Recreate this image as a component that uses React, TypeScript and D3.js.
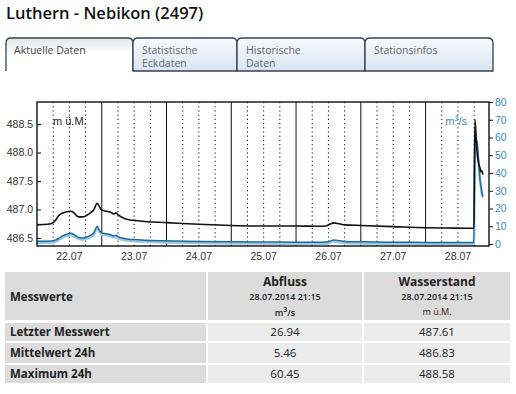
import React, { useRef, useEffect } from "react";
import * as d3 from "d3";

const title = "Luthern - Nebikon (2497)";
const tabLabels = [["Aktuelle Daten"], ["Statistische", "Eckdaten"], ["Historische", "Daten"], ["Stationsinfos"]];

// hours since 22.07.2014 00:00
const levelHours = [0, 4, 6, 7, 8, 9.5, 11, 12.5, 13.5, 14.5, 15.5, 17, 18.5, 20, 21, 22.3, 23, 24, 25.5, 27, 28.5, 29.3, 30.2, 32, 34, 36, 40, 48, 60, 72, 84, 96, 104, 107, 108.5, 110, 112, 114, 120, 132, 144, 152, 161.9, 162.3, 163, 163.8, 164.2, 164.5, 164.9, 165.25];
const levelValues = [486.73, 486.74, 486.77, 486.82, 486.89, 486.94, 486.96, 486.97, 486.95, 486.9, 486.87, 486.87, 486.9, 486.95, 486.99, 487.11, 487.06, 486.99, 486.97, 486.96, 486.92, 486.94, 486.9, 486.85, 486.82, 486.81, 486.79, 486.77, 486.74, 486.72, 486.71, 486.71, 486.705, 486.71, 486.74, 486.765, 486.75, 486.73, 486.72, 486.7, 486.68, 486.675, 486.67, 488.58, 488.04, 487.78, 487.73, 487.66, 487.68, 487.61];

const flowHours = levelHours;
const flowValues = [1.5, 1.6, 1.8, 2.3, 3.1, 4.6, 5.5, 6.0, 5.5, 4.5, 3.7, 3.4, 3.9, 5.0, 6.2, 9.8, 8.0, 6.3, 5.8, 5.4, 4.5, 4.9, 4.0, 3.2, 2.7, 2.5, 2.1, 1.8, 1.4, 1.2, 1.1, 1.0, 1.0, 1.1, 1.6, 2.3, 1.9, 1.4, 1.2, 1.0, 0.9, 0.8, 0.8, 60.45, 57.5, 43.4, 36.0, 33.0, 28.7, 26.94];

const dayLabels = ["22.07", "23.07", "24.07", "25.07", "26.07", "27.07", "28.07"];
const levelTicks = [486.5, 487.0, 487.5, 488.0, 488.5];
const flowTicks = [0, 10, 20, 30, 40, 50, 60, 70, 80];

const tableHead = ["Messwerte", "Abfluss", "Wasserstand"];
const tableStamp = "28.07.2014 21:15";
const rowLabels = ["Letzter Messwert", "Mittelwert 24h", "Maximum 24h"];
const flowStats = ["26.94", "5.46", "60.45"];
const levelStats = ["487.61", "486.83", "488.58"];

const start = new Date(2014, 6, 22, 0, 0);
const atHour = (h: number) => new Date(start.getTime() + h * 3600000);

export default function App() {
  const svgRef = useRef<SVGSVGElement>(null);

  useEffect(() => {
    if (!svgRef.current) return;
    const svg = d3.select(svgRef.current);
    svg.selectAll("*").remove();

    const plot = { left: 37, right: 489, top: 102, bottom: 246 };
    const chartFont = "'Liberation Sans', Arial, sans-serif";
    const uiFont = "'Open Sans', 'Noto Sans', sans-serif";
    const blue = "#1b6a9c";
    const blueText = "#3a8cc2";

    const defs = svg.append("defs");
    const gA = defs.append("linearGradient").attr("id", "tabActive").attr("x1", 0).attr("y1", 0).attr("x2", 0).attr("y2", 1);
    gA.append("stop").attr("offset", "0%").attr("stop-color", "#e4e4e4");
    gA.append("stop").attr("offset", "45%").attr("stop-color", "#ffffff");
    const gI = defs.append("linearGradient").attr("id", "tabInactive").attr("x1", 0).attr("y1", 0).attr("x2", 0).attr("y2", 1);
    gI.append("stop").attr("offset", "0%").attr("stop-color", "#f7fafd");
    gI.append("stop").attr("offset", "100%").attr("stop-color", "#d8e5f3");
    defs.append("clipPath").attr("id", "plotClip").append("rect")
      .attr("x", plot.left).attr("y", plot.top).attr("width", plot.right - plot.left).attr("height", plot.bottom - plot.top);

    // title
    svg.append("text").attr("x", 6).attr("y", 19).attr("font-family", uiFont)
      .attr("font-size", 16.5).attr("font-weight", 600).attr("fill", "#111").text(title);

    // tabs
    const tabEdges = [6, 133, 237, 365, 493];
    const tabTop = 38, tabBottom = 71, r = 5;
    tabLabels.forEach((lines, i) => {
      const x0 = tabEdges[i], x1 = tabEdges[i + 1];
      const p = `M${x0},${tabBottom} L${x0},${tabTop + r} Q${x0},${tabTop} ${x0 + r},${tabTop} L${x1 - r},${tabTop} Q${x1},${tabTop} ${x1},${tabTop + r} L${x1},${tabBottom}`;
      svg.append("path").attr("d", p + (i > 0 ? " Z" : ""))
        .attr("fill", i === 0 ? "url(#tabActive)" : "url(#tabInactive)")
        .attr("stroke", "#36404c").attr("stroke-width", 1.3);
      lines.forEach((l, j) => {
        svg.append("text").attr("x", x0 + (i === 0 ? 8 : 9)).attr("y", 54 + j * 13)
          .attr("font-family", uiFont).attr("font-size", 10.5).attr("fill", i === 0 ? "#444" : "#666").text(l);
      });
    });

    // scales
    const x = d3.scaleTime().domain([atHour(0), atHour(167.5)]).range([plot.left, plot.right]);
    const yLevel = d3.scaleLinear().domain([486.5, 488.5]).range([238, 124]);
    const yFlow = d3.scaleLinear().domain([0, 80]).range([244, 102]);

    // grid
    const grid = svg.append("g");
    d3.timeHour.every(6)!.range(atHour(0), atHour(167.5)).forEach((t) => {
      if (t.getTime() === start.getTime()) return;
      const midnight = t.getHours() === 0;
      grid.append("line").attr("x1", x(t)).attr("x2", x(t)).attr("y1", plot.top).attr("y2", plot.bottom)
        .attr("stroke", "#111").attr("stroke-width", 1)
        .attr("stroke-dasharray", midnight ? null : "1.2,3");
    });

    const levelData = levelHours.map((h, i) => ({ t: atHour(h), v: levelValues[i] }));
    const flowData = flowHours.map((h, i) => ({ t: atHour(h), v: flowValues[i] }));

    const lines = svg.append("g").attr("clip-path", "url(#plotClip)");
    const flowLine = d3.line<{ t: Date; v: number }>().x((d) => x(d.t)).y((d) => yFlow(d.v)).curve(d3.curveMonotoneX);
    // light halo under the discharge line
    lines.append("path").datum(flowData).attr("d", flowLine).attr("fill", "none")
      .attr("stroke", "#9cc6e2").attr("stroke-width", 2.5).attr("transform", "translate(0,1.6)");
    lines.append("path").datum(flowData).attr("d", flowLine).attr("fill", "none").attr("stroke", blue).attr("stroke-width", 1.5);

    const levelLine = d3.line<{ t: Date; v: number }>().x((d) => x(d.t)).y((d) => yLevel(d.v)).curve(d3.curveMonotoneX);
    lines.append("path").datum(levelData).attr("d", levelLine).attr("fill", "none").attr("stroke", "#111").attr("stroke-width", 1.6);

    // frame
    svg.append("rect").attr("x", plot.left).attr("y", plot.top).attr("width", plot.right - plot.left)
      .attr("height", plot.bottom - plot.top).attr("fill", "none").attr("stroke", "#111").attr("stroke-width", 1.4);

    // left axis
    const left = svg.append("g").attr("transform", `translate(${plot.left},0)`)
      .call(d3.axisRight(yLevel).tickValues(levelTicks).tickSize(4).tickFormat(() => ""));
    left.select(".domain").remove();
    left.selectAll("line").attr("stroke", "#111");
    levelTicks.forEach((v) => {
      svg.append("text").attr("x", 33).attr("y", yLevel(v) + 3.5).attr("text-anchor", "end")
        .attr("font-family", chartFont).attr("font-size", 10.5).attr("fill", "#333").text(d3.format(".1f")(v));
    });

    // right axis
    const right = svg.append("g").attr("transform", `translate(${plot.right},0)`)
      .call(d3.axisRight(yFlow).tickValues(flowTicks).tickSize(4).tickPadding(2));
    right.select(".domain").remove();
    right.selectAll("line").attr("stroke", "#111");
    right.selectAll("text").attr("font-family", chartFont).attr("font-size", 10.5).attr("fill", blueText);

    // x labels at noon
    dayLabels.forEach((lab, i) => {
      svg.append("text").attr("x", x(atHour(i * 24 + 12))).attr("y", 260).attr("text-anchor", "middle")
        .attr("font-family", chartFont).attr("font-size", 10.5).attr("fill", "#333").text(lab);
    });

    // unit labels
    svg.append("text").attr("x", 53).attr("y", 125).attr("font-family", chartFont).attr("font-size", 11).attr("fill", "#222").text("m ü.M.");
    const mu = svg.append("text").attr("x", 467).attr("y", 125).attr("text-anchor", "end").attr("font-family", chartFont).attr("font-size", 11).attr("fill", blueText);
    mu.append("tspan").text("m");
    mu.append("tspan").attr("font-size", 7).attr("dy", -4).text("3");
    mu.append("tspan").attr("dy", 4).text("/s");

    // table
    const cols = [[5, 206], [208, 362], [364, 510]];
    const rows = [[272, 320], [323, 341], [343, 363], [365, 383]];
    rows.forEach((rw, ri) => {
      cols.forEach((c, ci) => {
        const fill = ri === 0 || ci === 0 ? "#dcdcdc" : "#ececec";
        svg.append("rect").attr("x", c[0]).attr("y", rw[0]).attr("width", c[1] - c[0]).attr("height", rw[1] - rw[0]).attr("fill", fill);
      });
    });
    const cx = (ci: number) => (cols[ci][0] + cols[ci][1]) / 2;
    svg.append("text").attr("x", 10).attr("y", 301).attr("font-family", uiFont).attr("font-size", 11.5).attr("font-weight", 700).attr("fill", "#222").text(tableHead[0]);
    [1, 2].forEach((ci) => {
      svg.append("text").attr("x", cx(ci)).attr("y", 286).attr("text-anchor", "middle").attr("font-family", uiFont)
        .attr("font-size", 12).attr("font-weight", 700).attr("fill", "#222").text(tableHead[ci]);
      svg.append("text").attr("x", cx(ci)).attr("y", 300).attr("text-anchor", "middle").attr("font-family", uiFont)
        .attr("font-size", 9).attr("font-weight", 600).attr("fill", "#222").text(tableStamp);
    });
    const u1 = svg.append("text").attr("x", cx(1)).attr("y", 316).attr("text-anchor", "middle").attr("font-family", uiFont).attr("font-size", 9).attr("font-weight", 600).attr("fill", "#222");
    u1.append("tspan").text("m");
    u1.append("tspan").attr("font-size", 7).attr("dy", -4).text("3");
    u1.append("tspan").attr("dy", 4).text("/s");
    svg.append("text").attr("x", cx(2)).attr("y", 315).attr("text-anchor", "middle").attr("font-family", uiFont).attr("font-size", 9).attr("fill", "#222").text("m ü.M.");

    rowLabels.forEach((lab, i) => {
      const rw = rows[i + 1];
      const base = (rw[0] + rw[1]) / 2 + 4;
      svg.append("text").attr("x", 10).attr("y", base).attr("font-family", uiFont).attr("font-size", 11.5).attr("font-weight", 700).attr("fill", "#222").text(lab);
      svg.append("text").attr("x", cx(1)).attr("y", base).attr("text-anchor", "middle").attr("font-family", uiFont).attr("font-size", 11.5).attr("fill", "#222").text(flowStats[i]);
      svg.append("text").attr("x", cx(2)).attr("y", base).attr("text-anchor", "middle").attr("font-family", uiFont).attr("font-size", 11.5).attr("fill", "#222").text(levelStats[i]);
    });
  }, []);

  return (
    <svg ref={svgRef} width={516} height={394} style={{ position: "absolute", left: 0, top: 0, background: "#fff" }}></svg>
  );
}
